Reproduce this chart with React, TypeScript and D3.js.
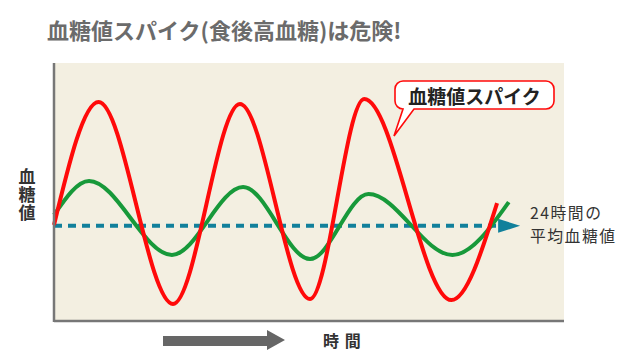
import * as d3 from "d3";

// time axis (hours-ish) and glucose level (arbitrary 0-100 units)
const spikeTimes = [0, 2.1, 5.6, 8.75, 12.05, 14.6, 18.7, 20.85];
const spikeValues = [37.2, 84.9, 6.6, 84.1, 8.5, 86.0, 8.1, 45.7];

const gentleTimes = [0, 1.65, 5.55, 8.9, 12.05, 14.8, 18.75, 21.4];
const gentleValues = [41.1, 54.3, 25.6, 51.9, 24.0, 49.2, 25.6, 46.1];

const averageValue = 36.9;
const averageEnd = 20.9;

const title = "血糖値スパイク(食後高血糖)は危険!";
const yLabel = "血糖値";
const xLabel = "時 間";
const averageLabel = ["24時間の", "平均血糖値"];
const calloutLabel = "血糖値スパイク";

const width = 630;
const height = 363;
const plot = { left: 54, right: 564, top: 63, bottom: 321 };
const font = "'Noto Sans CJK JP', 'Noto Sans', sans-serif";

const x = d3.scaleLinear().domain([0, 24]).range([plot.left, plot.right]);
const y = d3.scaleLinear().domain([0, 100]).range([plot.bottom, plot.top]);

const line = d3
  .line<[number, number]>()
  .x((d) => x(d[0]))
  .y((d) => y(d[1]))
  .curve(d3.curveMonotoneX);

const spike = spikeTimes.map((t, i) => [t, spikeValues[i]] as [number, number]);
const gentle = gentleTimes.map((t, i) => [t, gentleValues[i]] as [number, number]);

// speech bubble outline with the tail pointing down to the red curve
const bubblePath = (x0: number, y0: number, x1: number, y1: number, r: number) =>
  `M${x0 + r},${y0} H${x1 - r} A${r},${r} 0 0 1 ${x1},${y0 + r} V${y1 - r}` +
  ` A${r},${r} 0 0 1 ${x1 - r},${y1} H${x0 + 19} L${x0 - 1},${y1 + 27} L${x0 + 8},${y1}` +
  ` H${x0 + r} A${r},${r} 0 0 1 ${x0},${y1 - r} V${y0 + r} A${r},${r} 0 0 1 ${x0 + r},${y0} Z`;

export default function App() {
  const avgY = y(averageValue);
  const avgX = x(averageEnd);

  return (
    <svg
      width={width}
      height={height}
      style={{ position: "fixed", left: 0, top: 0, background: "#fff" }}
      fontFamily={font}
    >
      <text x={47} y={29} fontSize={22} fontWeight="bold" fill="#6b6b6b" dominantBaseline="central">
        {title}
      </text>

      {/* plot area */}
      <rect
        x={plot.left}
        y={plot.top}
        width={plot.right - plot.left}
        height={plot.bottom - plot.top}
        fill="#f3efe1"
      />

      {/* average line + arrow */}
      <line
        x1={x(0)}
        x2={avgX}
        y1={avgY}
        y2={avgY}
        stroke="#11809b"
        strokeWidth={4}
        strokeDasharray="8 6"
      />
      <path d={`M${avgX},${avgY - 7} L${avgX + 22},${avgY} L${avgX},${avgY + 7} Z`} fill="#11809b" />

      <path d={line(gentle) ?? ""} fill="none" stroke="#17993a" strokeWidth={4} />
      <path d={line(spike) ?? ""} fill="none" stroke="#ff0a0a" strokeWidth={4} />

      {/* axes */}
      <line x1={plot.left} x2={plot.left} y1={plot.top} y2={plot.bottom + 1} stroke="#777" strokeWidth={2.5} />
      <line x1={plot.left} x2={plot.right} y1={plot.bottom} y2={plot.bottom} stroke="#777" strokeWidth={2.5} />

      {/* callout */}
      <path d={bubblePath(395, 81, 554, 109, 8)} fill="#fff" stroke="#ff0a0a" strokeWidth={1.6} />
      <text
        x={474.5}
        y={95}
        fontSize={19}
        fontWeight="bold"
        fill="#222"
        textAnchor="middle"
        dominantBaseline="central"
      >
        {calloutLabel}
      </text>

      {/* y label, written top to bottom */}
      <text
        x={27}
        y={168}
        fontSize={17}
        fontWeight="bold"
        fill="#333"
        writingMode="vertical-rl"
        letterSpacing={1}
      >
        {yLabel}
      </text>

      {/* average label */}
      {averageLabel.map((s, i) => (
        <text
          key={s}
          x={530}
          y={212 + i * 23}
          fontSize={15.8}
          letterSpacing={1.5}
          fill="#333"
          dominantBaseline="central"
        >
          {s}
        </text>
      ))}

      {/* time arrow */}
      <path d="M163,336 H267 V330 L285,340 L267,350 V346 H163 Z" fill="#666" />
      <text x={323} y={340} fontSize={16} fontWeight="bold" fill="#333" dominantBaseline="central" letterSpacing={1}>
        {xLabel}
      </text>
    </svg>
  );
}
